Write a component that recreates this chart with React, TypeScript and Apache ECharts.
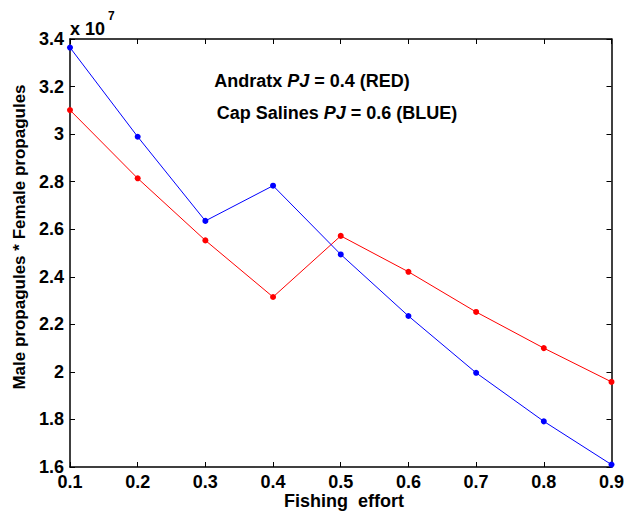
import React, { useEffect, useRef } from "react";
import * as echarts from "echarts";

const effort = [0.1, 0.2, 0.3, 0.4, 0.5, 0.6, 0.7, 0.8, 0.9];
// values in units of 10^7
const andratxRed = [3.101, 2.814, 2.553, 2.315, 2.572, 2.421, 2.252, 2.1, 1.958];
const capSalinesBlue = [3.364, 2.989, 2.635, 2.783, 2.494, 2.235, 1.996, 1.792, 1.61];

const FONT = "Liberation Sans, Arial, sans-serif";

export default function App() {
  const ref = useRef<HTMLDivElement>(null);
  useEffect(() => {
    if (!ref.current) return;
    const chart = echarts.init(ref.current, null, { renderer: "svg" });
    const tickStyle = { show: true, inside: true, length: 5, lineStyle: { color: "#000", width: 1 } };
    const lineStyle = { show: true, lineStyle: { color: "#000", width: 1.5 } };
    const labelStyle = { color: "#000", fontFamily: FONT, fontWeight: "bold" as const, fontSize: 18 };
    const rich = {
      n: { fontFamily: FONT, fontWeight: "bold", fontSize: 18, fill: "#000" },
      i: { fontFamily: FONT, fontWeight: "bold", fontStyle: "italic", fontSize: 18, fill: "#000" },
    };
    chart.setOption({
      animation: false,
      backgroundColor: "#fff",
      grid: { left: 70, right: 13, top: 39, bottom: 46, containLabel: false },
      xAxis: [
        {
          type: "value", min: 0.1, max: 0.9, interval: 0.1, position: "bottom",
          axisLine: lineStyle, axisTick: tickStyle, splitLine: { show: false },
          axisLabel: { ...labelStyle, margin: 6, formatter: (v: number) => v.toFixed(1) },
        },
        {
          type: "value", min: 0.1, max: 0.9, interval: 0.1, position: "top",
          axisLine: lineStyle, axisTick: tickStyle, splitLine: { show: false }, axisLabel: { show: false },
        },
      ],
      yAxis: [
        {
          type: "value", min: 1.6, max: 3.4, interval: 0.2, position: "left",
          axisLine: lineStyle, axisTick: tickStyle, splitLine: { show: false },
          axisLabel: { ...labelStyle, margin: 6, formatter: (v: number) => String(Math.round(v * 10) / 10) },
        },
        {
          type: "value", min: 1.6, max: 3.4, interval: 0.2, position: "right",
          axisLine: lineStyle, axisTick: tickStyle, splitLine: { show: false }, axisLabel: { show: false },
        },
      ],
      series: [
        {
          type: "line", name: "Andratx", data: effort.map((x, i) => [x, andratxRed[i]]),
          symbol: "circle", symbolSize: 6, showSymbol: true,
          lineStyle: { color: "#ff0000", width: 1 }, itemStyle: { color: "#ff0000" },
          clip: false,
        },
        {
          type: "line", name: "Cap Salines", data: effort.map((x, i) => [x, capSalinesBlue[i]]),
          symbol: "circle", symbolSize: 6, showSymbol: true,
          lineStyle: { color: "#0000ff", width: 1 }, itemStyle: { color: "#0000ff" },
          clip: false,
        },
      ],
      graphic: [
        {
          type: "text", x: 70, y: 29,
          style: {
            text: "x 10", verticalAlign: "middle",
            fontFamily: FONT, fontWeight: "bold", fontSize: 18, fill: "#000",
          },
        },
        {
          type: "text", x: 108, y: 16,
          style: {
            text: "7", verticalAlign: "middle",
            fontFamily: FONT, fontWeight: "bold", fontSize: 12, fill: "#000",
          },
        },
        {
          type: "text", x: 312, y: 81,
          style: {
            text: "{n|Andratx }{i|PJ}{n| = 0.4 (RED)}", align: "center", verticalAlign: "middle", rich,
          },
        },
        {
          type: "text", x: 337, y: 113,
          style: {
            text: "{n|Cap Salines }{i|PJ}{n| = 0.6 (BLUE)}", align: "center", verticalAlign: "middle", rich,
          },
        },
        {
          type: "text", x: 19, y: 237, rotation: Math.PI / 2,
          style: {
            text: "Male propagules * Female propagules", align: "center", verticalAlign: "middle",
            fontFamily: FONT, fontWeight: "bold", fontSize: 17, fill: "#000",
          },
        },
        {
          type: "text", x: 344, y: 501,
          style: {
            text: "Fishing  effort", align: "center", verticalAlign: "middle",
            fontFamily: FONT, fontWeight: "bold", fontSize: 18, fill: "#000",
          },
        },
      ],
    });
    return () => chart.dispose();
  }, []);
  return (
    <div
      ref={ref}
      style={{ position: "fixed", left: 0, top: 0, width: 627, height: 513, background: "#fff" }}
    />
  );
}
